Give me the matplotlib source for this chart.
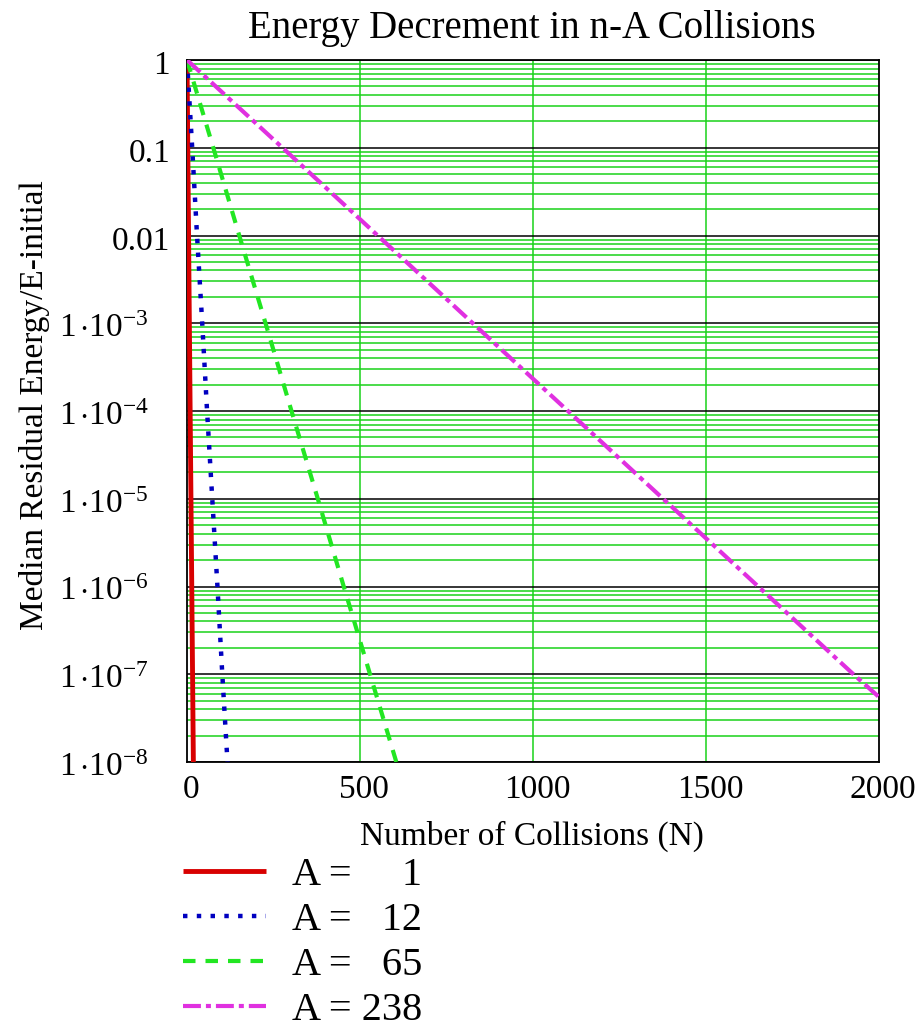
import numpy as np
import matplotlib
matplotlib.use("Agg")
import matplotlib.pyplot as plt
from matplotlib import transforms as mtrans

plt.rcParams['font.family'] = ['Liberation Serif', 'DejaVu Serif']
plt.rcParams['mathtext.fontset'] = 'custom'
plt.rcParams['mathtext.rm'] = 'Liberation Serif'
plt.rcParams['mathtext.it'] = 'Liberation Serif:italic'
plt.rcParams['mathtext.bf'] = 'Liberation Serif:bold'

# ---- data ----
labels = ["A = \u2007\u20071", "A = \u200712", "A = \u200765", "A = 238"]
n_A1 = [0, 9, 18.4]
e_A1 = [1.0, 1.1e-4, 1e-8]
n_A12 = [0, 15, 29, 44, 58, 73, 88, 102, 117]
e_A12 = [1.0, 0.1, 1e-2, 1e-3, 1e-4, 1e-5, 1e-6, 1e-7, 1e-8]
n_A65 = [0, 76, 151, 227, 302, 378, 453, 529, 605]
e_A65 = [1.0, 0.1, 1e-2, 1e-3, 1e-4, 1e-5, 1e-6, 1e-7, 1e-8]
n_A238 = [0, 276, 551, 826, 1101, 1376, 1651, 1926, 2000]
e_A238 = [1.0, 0.1, 1e-2, 1e-3, 1e-4, 1e-5, 1e-6, 1e-7, 5.5e-8]

x_ticks = [0, 500, 1000, 1500, 2000]
y_ticks = [1, 0.1, 0.01, 1e-3, 1e-4, 1e-5, 1e-6, 1e-7, 1e-8]
y_ticklabels = ["1", "0.1", "0.01", r"$1\,{\cdot}10^{-3}$", r"$1\,{\cdot}10^{-4}$",
                r"$1\,{\cdot}10^{-5}$", r"$1\,{\cdot}10^{-6}$", r"$1\,{\cdot}10^{-7}$",
                r"$1\,{\cdot}10^{-8}$"]

title = "Energy Decrement in n-A Collisions"
xlabel = "Number of Collisions (N)"
ylabel = "Median Residual Energy/E-initial"

# ---- figure ----
W, H = 922, 1031
fig = plt.figure(figsize=(W/100, H/100), dpi=100)
ax = fig.add_axes([187/W, 1 - 762/H, (879-187)/W, (762-60)/H])
ax.set_yscale('log')
ax.set_xlim(0, 2000)
ax.set_ylim(1e-8, 1)

# grid
gcol = '#1ad21a'
for d in range(-8, 0):
    for m in range(2, 10):
        ax.axhline(m * 10.0**d, color=gcol, lw=1.1, zorder=1)
for v in y_ticks:
    ax.axhline(v, color='black', lw=1.1, zorder=1.5)
for xv in x_ticks[1:-1]:
    ax.axvline(xv, color=gcol, lw=1.1, zorder=1)

ax.plot(n_A1, e_A1, color='#d80000', lw=3.5, solid_capstyle='butt', label=labels[0], zorder=5)
ax.plot(n_A12, e_A12, color='#0000c0', lw=3.2, linestyle=(0, (1.0, 2.1)),
        dash_capstyle='butt', label=labels[1], zorder=5)
ax.plot(n_A65, e_A65, color='#22e622', lw=3.0, linestyle=(0, (3.0, 2.4)),
        dash_capstyle='butt', label=labels[2], zorder=5)
ax.plot(n_A238, e_A238, color='#e030e0', lw=3.0, linestyle=(0, (4.3, 1.2, 1.2, 1.2)),
        dash_capstyle='butt', label=labels[3], zorder=5)

for s in ax.spines.values():
    s.set_color('black')
    s.set_linewidth(1.3)
    s.set_zorder(4)

ax.set_xticks(x_ticks)
ax.set_xticklabels([str(t) for t in x_ticks])
ax.minorticks_off()
ax.set_yticks(y_ticks)
ax.set_yticklabels([])
ax.tick_params(axis='both', which='both', length=0)
ax.tick_params(axis='x', labelsize=24, pad=9)
for lab in ax.get_xticklabels():
    lab.set_transform(lab.get_transform() + mtrans.ScaledTranslation(4/100, 0, fig.dpi_scale_trans))

# y tick labels: main text centred on the gridline, exponent raised
trans = mtrans.blended_transform_factory(ax.transAxes, ax.transData)
off = mtrans.ScaledTranslation(0, -14/100, fig.dpi_scale_trans)
for v, lab in zip(y_ticks, y_ticklabels):
    xr = (149 - 187) / 692 if lab.startswith('$') else (170 - 187) / 692
    ax.text(xr, v, lab, transform=trans + off, ha='right', va='baseline', fontsize=24)

fig.text(532/W, 1 - 38/H, title, fontsize=28, ha='center', va='baseline')
fig.text(532/W, 1 - 845/H, xlabel, fontsize=24, ha='center', va='baseline')
fig.text(35/W, 1 - 405/H, ylabel, fontsize=24, ha='center', va='center', rotation=90)

fs = 29
leg = ax.legend(loc='upper left', bbox_to_anchor=(183/W, 1 - 857/H),
                bbox_transform=fig.transFigure, frameon=False, fontsize=fs,
                handlelength=2.06, handletextpad=0.65, labelspacing=0.19,
                borderpad=0, borderaxespad=0)

fig.savefig("out.png", dpi=100, facecolor='white')
